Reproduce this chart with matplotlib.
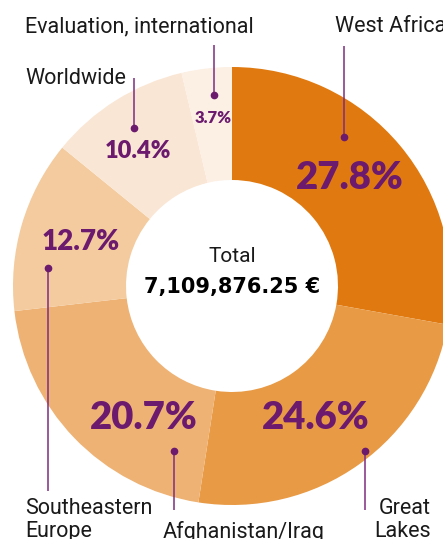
import matplotlib
matplotlib.use("Agg")
import matplotlib.pyplot as plt

regions = ["West Africa", "Great\nLakes", "Afghanistan/Iraq", "Southeastern\nEurope",
           "Worldwide", "Evaluation, international"]
shares = [27.8, 24.6, 20.7, 12.7, 10.4, 3.7]
pct_labels = ["27.8%", "24.6%", "20.7%", "12.7%", "10.4%", "3.7%"]
colors = ["#E07A10", "#E89A45", "#EEB274", "#F3CB9E", "#FAE6D4", "#FCEFE4"]
total_label = "7,109,876.25 €"

W, H = 443, 539
fig = plt.figure(figsize=(W / 100, H / 100), dpi=100)
ax = fig.add_axes([0, 0, 1, 1])

cx, cy, R, r_in = 232, 286, 219, 106
ax.pie(shares, colors=colors, startangle=-90, counterclock=True,
       center=(cx, cy), radius=R, wedgeprops=dict(width=R - r_in, linewidth=0),
       frame=True)
ax.set_xlim(0, W)
ax.set_ylim(H, 0)
ax.set_aspect("equal")
ax.axis("off")

purple = "#6B1A6E"
line_purple = "#7E2C80"
pfont = dict(family="Lato", fontweight="heavy", color=purple, ha="center", va="center")
# percentage labels: (x, y, size)
ppos = [(350, 178, 27.5), (316, 418, 27.5), (144, 418, 27.5), (81, 242, 20), (138, 151, 17), (213, 118, 12)]
for lab, (x, y, s) in zip(pct_labels, ppos):
    ax.text(x, y, lab, fontsize=s, **pfont)

lfont = dict(family="Roboto", fontsize=15.5, color="#1a1a1a")
# leader lines: (x, y_top, y_bottom, dot_y)
leaders = [(344, 46, 137, 137), (365, 451, 510, 451), (174, 451, 510, 451),
           (48, 268, 491, 268), (134, 78, 128, 128), (214, 45, 95, 95)]
for (x, y0, y1, yd) in leaders:
    ax.plot([x, x], [y0, y1], color=line_purple, lw=1.1, solid_capstyle="butt")
    ax.plot([x], [yd], "o", color=purple, ms=4.5)

# category labels
ax.text(335, 27, regions[0], ha="left", va="center", **lfont)
ax.text(431, 520, regions[1], ha="right", va="center", linespacing=1.1, **lfont)
ax.text(163, 532, regions[2], ha="left", va="center", **lfont)
ax.text(25, 520, regions[3], ha="left", va="center", linespacing=1.1, **lfont)
ax.text(25, 78, regions[4], ha="left", va="center", **lfont)
ax.text(25, 27, regions[5], ha="left", va="center", **lfont)

ax.text(cx, 256, "Total", ha="center", va="center", family="Roboto", fontsize=15, color="#1a1a1a")
ax.text(cx, 287, total_label, ha="center", va="center", family="DejaVu Sans",
        fontweight="bold", fontsize=15, color="black")

fig.savefig("out.png", dpi=100)
